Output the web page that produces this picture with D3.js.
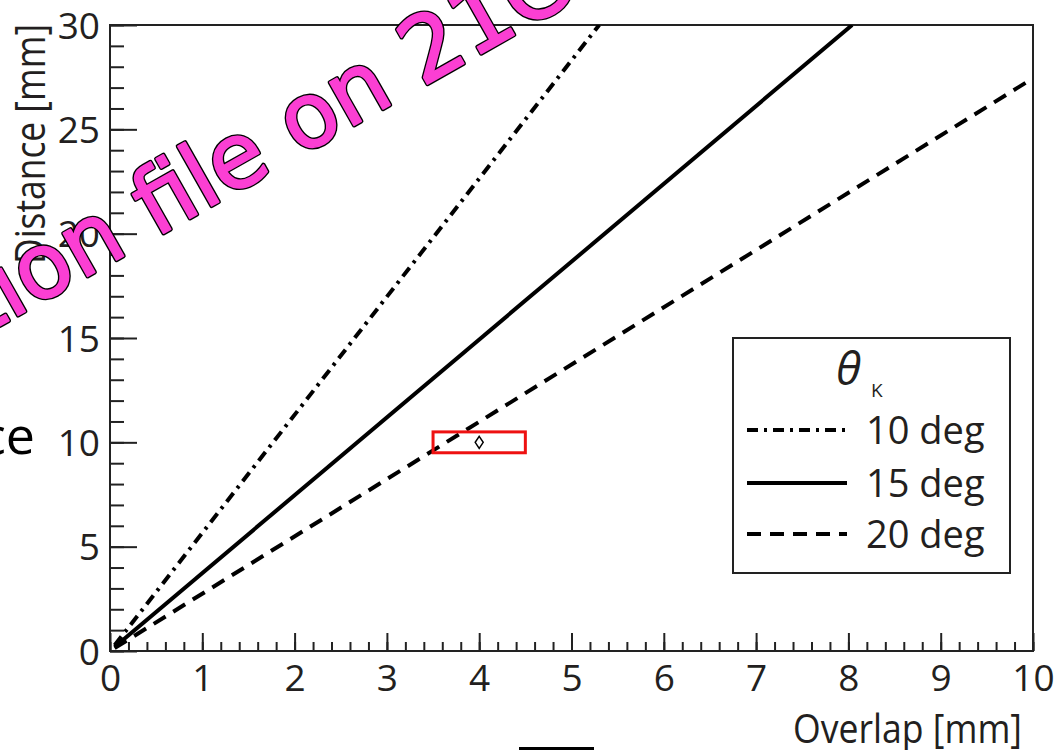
<!DOCTYPE html>
<html>
<head>
<meta charset="utf-8">
<script src="https://cdn.jsdelivr.net/npm/d3@7"></script>
<style>
  html, body { margin: 0; padding: 0; background: #fff; }
  svg { display: block; }
</style>
</head>
<body>
<svg id="chart" width="1061" height="750"></svg>
<script>
// ---------------- data ----------------
const seriesNames = ["10 deg", "15 deg", "20 deg"];
// [overlap (mm), distance (mm)] end points
const line10 = [[0.05, 0.28], [5.30, 30.0]];
const line15 = [[0.05, 0.19], [8.04, 30.0]];
const line20 = [[0.05, 0.14], [10.0, 27.45]];
const xTickLabels = ["0","1","2","3","4","5","6","7","8","9","10"];
const yTickLabels = ["0","5","10","15","20","25","30"];
const boxX = [3.5, 4.5];
const boxY = [9.5, 10.5];
const markerPoint = [4.0, 10.0];

// ---------------- layout ----------------
const svg = d3.select("#chart");
const L = 110, R = 1033, T = 25, B = 651;
const x = d3.scaleLinear().domain([0, 10]).range([L, R]);
const y = d3.scaleLinear().domain([0, 30]).range([B, T]);
const ink = "#231f20";
const axisFont = "'Open Sans', 'Noto Sans', sans-serif";

// clip
svg.append("defs").append("clipPath").attr("id", "plotclip")
  .append("rect").attr("x", L).attr("y", T).attr("width", R - L).attr("height", B - T);

// minor ticks x
const xMinor = d3.axisBottom(x).tickValues(d3.range(0, 10.001, 0.2)).tickSize(-9).tickFormat("");
const gxm = svg.append("g").attr("transform", `translate(0,${B})`).call(xMinor);
// major ticks x
const xMajor = d3.axisBottom(x).tickValues(xTickLabels.map(Number)).tickSize(-18).tickPadding(14)
  .tickFormat((d, i) => xTickLabels[i]);
const gx = svg.append("g").attr("transform", `translate(0,${B})`).call(xMajor);

// y ticks
const yMinor = d3.axisLeft(y).tickValues(d3.range(0, 30.001, 1)).tickSize(-14).tickFormat("");
const gym = svg.append("g").attr("transform", `translate(${L},0)`).call(yMinor);
const yMajor = d3.axisLeft(y).tickValues(yTickLabels.map(Number)).tickSize(-27).tickPadding(10)
  .tickFormat((d, i) => yTickLabels[i]);
const gy = svg.append("g").attr("transform", `translate(${L},0)`).call(yMajor);

[gxm, gx, gym, gy].forEach(g => {
  g.select(".domain").remove();
  g.selectAll(".tick line").attr("stroke", "#222").attr("stroke-width", 2);
  g.selectAll(".tick text").attr("fill", ink).attr("font-family", axisFont).attr("font-size", 37);
});
gy.selectAll(".tick text").attr("dy", "0.36em");

// frame
svg.append("rect").attr("x", L).attr("y", T).attr("width", R - L).attr("height", B - T)
  .attr("fill", "none").attr("stroke", "#222").attr("stroke-width", 2);

// axis titles
svg.append("text").attr("x", 1022).attr("y", 743).attr("text-anchor", "end")
  .attr("font-family", axisFont).attr("font-size", 40).attr("fill", ink)
  .attr("textLength", 229).attr("lengthAdjust", "spacingAndGlyphs")
  .text("Overlap [mm]");
svg.append("text").attr("transform", "translate(45,24) rotate(-90)").attr("text-anchor", "end")
  .attr("font-family", axisFont).attr("font-size", 42).attr("fill", ink)
  .attr("textLength", 240).attr("lengthAdjust", "spacingAndGlyphs")
  .text("Distance [mm]");

// lines
const styles = [
  { data: line10, dash: "11 6 3 6" },
  { data: line15, dash: null },
  { data: line20, dash: "14 9" }
];
const lineGen = d3.line().x(d => x(d[0])).y(d => y(d[1]));
const gl = svg.append("g").attr("clip-path", "url(#plotclip)");
styles.forEach(s => {
  gl.append("path").attr("d", lineGen(s.data)).attr("fill", "none")
    .attr("stroke", "#000").attr("stroke-width", 4)
    .attr("stroke-dasharray", s.dash);
});

// red box and marker
svg.append("rect").attr("x", x(boxX[0])).attr("y", y(boxY[1]))
  .attr("width", x(boxX[1]) - x(boxX[0])).attr("height", y(boxY[0]) - y(boxY[1]))
  .attr("fill", "none").attr("stroke", "#ee1111").attr("stroke-width", 3);
const mx = x(markerPoint[0]), my = y(markerPoint[1]);
svg.append("path")
  .attr("d", `M${mx},${my - 6} L${mx + 4},${my} L${mx},${my + 6} L${mx - 4},${my} Z`)
  .attr("fill", "none").attr("stroke", "#000").attr("stroke-width", 1.5);

// legend
const lg = svg.append("g");
lg.append("rect").attr("x", 733).attr("y", 338).attr("width", 277).attr("height", 235)
  .attr("fill", "#fff").attr("stroke", "#222").attr("stroke-width", 2);
lg.append("text").attr("x", 836).attr("y", 385).attr("font-family", axisFont)
  .attr("font-style", "italic").attr("font-size", 46).attr("fill", ink).text("θ");
lg.append("text").attr("x", 871).attr("y", 397).attr("font-family", axisFont)
  .attr("font-size", 19).attr("fill", ink).text("K");
const legY = [430, 483, 534];
styles.forEach((s, i) => {
  lg.append("line").attr("x1", 747).attr("x2", 847).attr("y1", legY[i]).attr("y2", legY[i])
    .attr("stroke", "#000").attr("stroke-width", 4).attr("stroke-dasharray", s.dash);
  lg.append("text").attr("x", 866).attr("y", legY[i] + 14).attr("font-family", axisFont)
    .attr("font-size", 38).attr("fill", ink).text(seriesNames[i]);
});

// stray slide text at left
svg.append("text").attr("x", 35).attr("y", 454).attr("text-anchor", "end")
  .attr("font-family", axisFont).attr("font-size", 52).attr("fill", "#000").text("ce");

// black bar at bottom
svg.append("rect").attr("x", 519).attr("y", 747).attr("width", 75).attr("height", 3).attr("fill", "#000");

// magenta watermark (outline layer + fill layer)
const wmText = "ation file on 21C";
const wmG = svg.append("g").attr("transform", "translate(155,238) rotate(-29.5)");
const wmOut = wmG.append("text")
  .attr("font-family", "'DejaVu Sans', sans-serif").attr("font-size", 90)
  .attr("fill", "#000").attr("stroke", "#000").attr("stroke-width", 4.5).attr("stroke-linejoin", "round")
  .text(wmText);
const wmIn = wmG.append("text")
  .attr("font-family", "'DejaVu Sans', sans-serif").attr("font-size", 90)
  .attr("fill", "#fb3fd3").attr("stroke", "#fb3fd3").attr("stroke-width", 1.8).attr("stroke-linejoin", "round")
  .text(wmText);
const fIdx = wmText.indexOf("f");
const off = wmOut.node().getSubStringLength(0, fIdx);
wmOut.attr("x", -off);
wmIn.attr("x", -off);
</script>
</body>
</html>
